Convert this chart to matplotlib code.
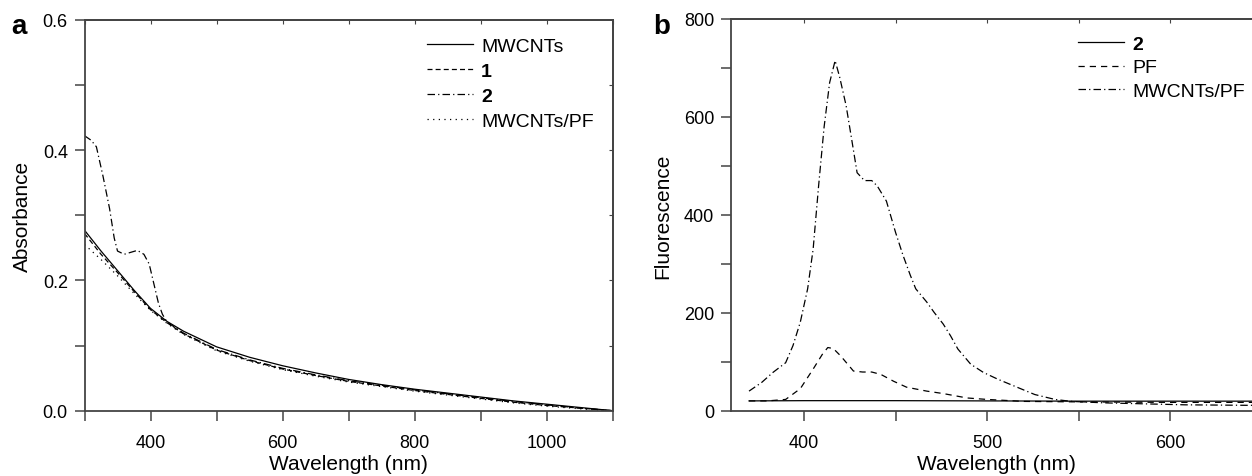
import numpy as np
import matplotlib
matplotlib.use("Agg")
import matplotlib.pyplot as plt
import matplotlib as mpl

mpl.rcParams.update({
    "font.family": ["Liberation Sans", "DejaVu Sans"],
    "font.size": 12,
    "axes.linewidth": 1.3,
    "axes.edgecolor": "#444444",
})

# ---- panel a: absorbance ----
wl_a = [300, 325, 350, 375, 400, 425, 450, 500, 550, 600, 650, 700, 750, 800,
        850, 900, 950, 1000, 1050, 1100]
abs_mwcnt = [0.277, 0.245, 0.215, 0.185, 0.157, 0.137, 0.122, 0.098, 0.082, 0.069,
             0.058, 0.048, 0.040, 0.033, 0.027, 0.021, 0.015, 0.010, 0.005, 0.000]
abs_1 = [0.272, 0.240, 0.212, 0.183, 0.155, 0.135, 0.118, 0.093, 0.077, 0.064,
         0.054, 0.045, 0.038, 0.031, 0.025, 0.019, 0.013, 0.008, 0.004, 0.000]
abs_pf = [0.255, 0.232, 0.207, 0.180, 0.154, 0.134, 0.117, 0.092, 0.076, 0.063,
          0.053, 0.044, 0.037, 0.030, 0.024, 0.018, 0.012, 0.007, 0.003, 0.000]
wl_a2 = [300, 310, 318, 328, 338, 345, 350, 360, 370, 380, 390, 398, 405, 412,
         418, 425, 450, 500, 550, 600, 650, 700, 750, 800, 850, 900, 950, 1000,
         1050, 1100]
abs_2 = [0.422, 0.415, 0.405, 0.360, 0.310, 0.265, 0.245, 0.240, 0.243, 0.246,
         0.240, 0.225, 0.195, 0.165, 0.148, 0.136, 0.119, 0.094, 0.078, 0.065,
         0.055, 0.046, 0.039, 0.032, 0.026, 0.020, 0.014, 0.009, 0.004, 0.000]

# ---- panel b: fluorescence ----
wl_b_2 = [370, 400, 450, 500, 550, 600, 650, 700]
fl_2 = [20, 20.5, 20.5, 20, 19.5, 19.5, 19.5, 19.5]
wl_b_pf = [370, 380, 390, 398, 405, 410, 413, 416, 420, 427, 432, 437, 442, 449,
           456, 467, 476, 489, 500, 520, 550, 600, 650, 700]
fl_pf = [20, 20, 23, 45, 85, 115, 129, 127, 112, 81, 79, 79, 74, 60,
         48, 40, 35, 26, 23, 19, 18, 17, 17, 17]
wl_b_mix = [370, 377, 383, 390, 394, 398, 402, 405, 408, 411, 414, 417, 419.5,
            423, 426, 429, 433, 437, 440, 445, 450, 454, 458, 461, 467, 471, 476,
            480, 484, 491, 498, 506, 515, 526, 537, 546, 564, 586, 608, 642, 700]
fl_mix = [40, 58, 78, 98, 133, 181, 249, 330, 460, 580, 670, 715, 681,
          623, 555, 486, 470, 470, 459, 428, 364, 318, 277, 249, 222, 201, 177,
          153, 126, 95, 78, 64, 50, 33, 23, 19, 16, 14, 12, 11, 11]

W, H = 1252, 477
fig = plt.figure(figsize=(W / 100, H / 100), dpi=100)

LW = 0.9
TICK_FS = 13
LAB_FS = 15
LEG_FS = 14


def style_ticks(a):
    a.tick_params(which="both", direction="out", length=7, width=1.1,
                  color="#444444", labelsize=TICK_FS)
    a.tick_params(axis="x", which="both", pad=10)
    a.tick_params(axis="y", which="both", pad=5)


ax = fig.add_axes([84.5 / W, (H - 411.7) / H, (612.7 - 84.5) / W, 391 / H])
ax.plot(wl_a, abs_mwcnt, color="black", lw=LW, ls="-", label="MWCNTs")
ax.plot(wl_a, abs_1, color="black", lw=LW, ls=(0, (4, 2.5)), label="1")
ax.plot(wl_a2, abs_2, color="black", lw=LW, ls=(0, (6, 2.5, 1, 2.5)), label="2")
ax.plot(wl_a, abs_pf, color="black", lw=LW, ls=(0, (1, 3.5)), label="MWCNTs/PF")
ax.set_xlim(300, 1100)
ax.set_ylim(0, 0.6)
ax.set_xticks([400, 600, 800, 1000])
ax.set_xticks([300, 500, 700, 900, 1100], minor=True)
ax.set_yticks([0.0, 0.2, 0.4, 0.6])
ax.set_yticks([0.1, 0.3, 0.5], minor=True)
ax.set_yticklabels(["0.0", "0.2", "0.4", "0.6"])
style_ticks(ax)
ax.set_xlabel("Wavelength (nm)", fontsize=LAB_FS, labelpad=2)
ax.set_ylabel("Absorbance", fontsize=LAB_FS, labelpad=8)
leg = ax.legend(loc="upper left", bbox_to_anchor=(0.648, 0.956), frameon=False,
                fontsize=LEG_FS, handlelength=2.4, handletextpad=0.4,
                labelspacing=0.39, borderpad=0, borderaxespad=0)
for t in leg.get_texts():
    if t.get_text() in ("1", "2"):
        t.set_fontweight("bold")
sx = ax.secondary_xaxis("top")
sx.set_xticks(range(300, 1101, 100))
sx.tick_params(direction="in", length=3, labeltop=False, color="#444444")
sy = ax.secondary_yaxis("right")
sy.set_yticks([0.1, 0.2, 0.3, 0.4, 0.5])
sy.tick_params(direction="in", length=3, labelright=False, color="#444444")

# panel b runs past the right edge of the figure, as in the source
bx = fig.add_axes([730.7 / W, (H - 411.7) / H, 1.832 * 290 / W, 391.7 / H])
bx.plot(wl_b_2, fl_2, color="black", lw=LW, ls="-", label="2")
bx.plot(wl_b_pf, fl_pf, color="black", lw=LW, ls=(0, (5, 4)), label="PF")
bx.plot(wl_b_mix, fl_mix, color="black", lw=LW, ls=(0, (6, 2.5, 1, 2.5)),
        label="MWCNTs/PF")
bx.set_xlim(360, 650)
bx.set_ylim(0, 800)
bx.set_xticks([400, 500, 600])
bx.set_xticks([450, 550, 650], minor=True)
bx.set_yticks([0, 200, 400, 600, 800])
bx.set_yticks([100, 300, 500, 700], minor=True)
style_ticks(bx)
bx.spines["right"].set_visible(False)
bx.set_xlabel("Wavelength (nm)", fontsize=LAB_FS, labelpad=2)
bx.set_ylabel("Fluorescence", fontsize=LAB_FS, labelpad=8)
leg = bx.legend(loc="upper left", bbox_to_anchor=(0.653, 0.959), frameon=False,
                fontsize=LEG_FS, handlelength=2.4, handletextpad=0.4,
                labelspacing=0.31, borderpad=0, borderaxespad=0)
for t in leg.get_texts():
    if t.get_text() == "2":
        t.set_fontweight("bold")
tx = bx.secondary_xaxis("top")
tx.set_xticks([400, 450, 500, 550, 600, 650])
tx.tick_params(direction="in", length=3, labeltop=False, color="#444444")

fig.text(19 / W, 1 - 27 / H, "a", fontsize=20, weight="bold", ha="center", va="center")
fig.text(662 / W, 1 - 27 / H, "b", fontsize=20, weight="bold", ha="center", va="center")

fig.savefig("out.png", dpi=100, facecolor="white")
